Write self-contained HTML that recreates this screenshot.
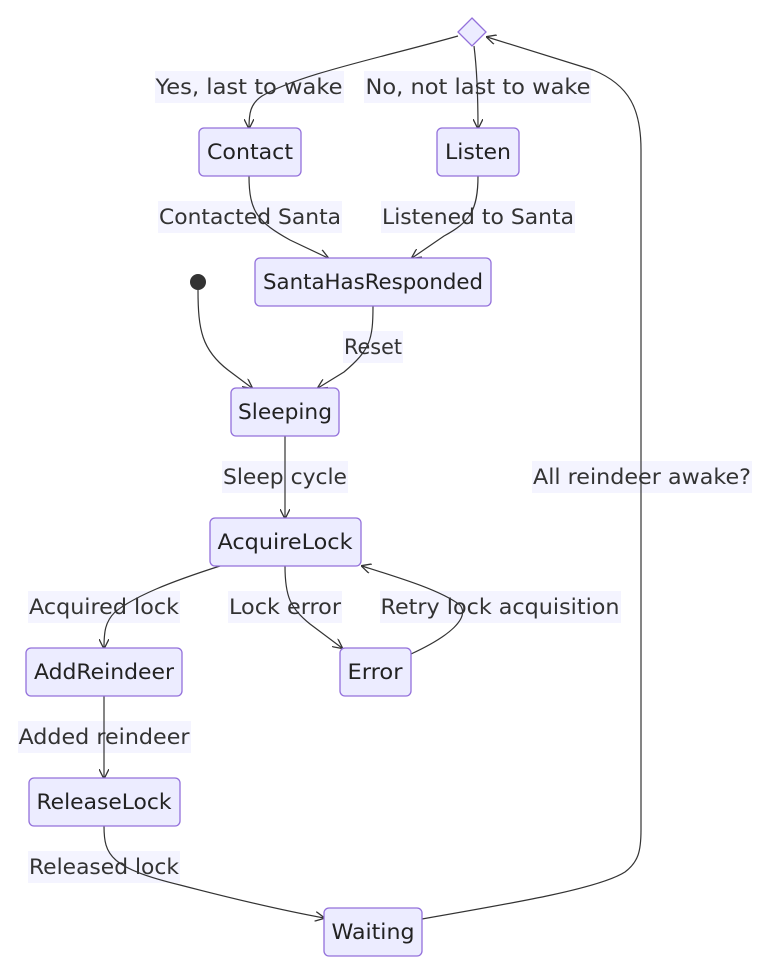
<!DOCTYPE html>
<html><head><meta charset="utf-8"><style>
html,body{margin:0;padding:0;background:#fff;}
svg{display:block;}
text{font-family:"DejaVu Sans","Liberation Sans",sans-serif;font-size:21px;fill:#333;dominant-baseline:central;text-anchor:middle;}
.n{fill:#ECECFF;stroke:#9370DB;stroke-width:1.3;}
.lb{fill:#F4F4FF;}
.e{fill:none;stroke:#333;stroke-width:1.2;}
.nt{fill:#222;}
</style></head><body>
<svg width="769" height="974" viewBox="0 0 769 974" xmlns="http://www.w3.org/2000/svg">
<defs><marker id="a" viewBox="0 0 10 10" refX="9" refY="5" markerWidth="10" markerHeight="10" orient="auto" markerUnits="userSpaceOnUse"><path d="M0,0 L10,5 L0,10" fill="none" stroke="#333" stroke-width="1.3"/></marker></defs>

<rect class="lb" x="155" y="71" width="189" height="32"/>
<rect class="lb" x="364" y="71" width="227" height="32"/>
<rect class="lb" x="158" y="201" width="184" height="32"/>
<rect class="lb" x="381" y="201" width="194" height="32"/>
<rect class="lb" x="343" y="331" width="60" height="32"/>
<rect class="lb" x="222" y="461" width="126" height="32"/>
<rect class="lb" x="532" y="461" width="220" height="32"/>
<rect class="lb" x="28" y="591" width="152" height="32"/>
<rect class="lb" x="228" y="591" width="114" height="32"/>
<rect class="lb" x="380" y="591" width="241" height="32"/>
<rect class="lb" x="18" y="721" width="173" height="32"/>
<rect class="lb" x="28" y="851" width="152" height="32"/>

<path class="e" marker-end="url(#a)" d="M458,36 C380,58 300,74 262,96 C250,104 249,114 249,128"/>
<path class="e" marker-end="url(#a)" d="M474,46 C477,70 478,100 478,128"/>
<path class="e" marker-end="url(#a)" d="M249,176 C249,212 258,222 290,240 L328,258"/>
<path class="e" marker-end="url(#a)" d="M478,176 C478,210 470,222 444,236 L412,258"/>
<path class="e" marker-end="url(#a)" d="M373,306 C373,340 370,350 344,372 L318,388"/>
<path class="e" marker-end="url(#a)" d="M198,290 C198,330 202,350 228,370 L252,388"/>
<path class="e" marker-end="url(#a)" d="M285,436 L285,518"/>
<path class="e" marker-end="url(#a)" d="M220,566 C170,582 135,596 115,612 C105,622 104,632 104,648"/>
<path class="e" marker-end="url(#a)" d="M285,566 C285,596 290,608 310,624 L342,648"/>
<path class="e" marker-end="url(#a)" d="M411,654 C450,636 470,618 460,605 C440,590 400,578 362,566"/>
<path class="e" marker-end="url(#a)" d="M104,696 L104,778"/>
<path class="e" marker-end="url(#a)" d="M104,826 C104,855 110,868 180,885 C230,898 280,910 324,918"/>
<path class="e" marker-end="url(#a)" d="M422,919 C520,902 600,888 625,872 C638,862 641,852 641,830 L641,150 C641,110 630,85 593,70 L487,37"/>

<polygon class="n" points="472,18 486,32 472,46 458,32"/>
<rect class="n" x="199" y="128" width="102" height="48" rx="5"/>
<rect class="n" x="437" y="128" width="82" height="48" rx="5"/>
<rect class="n" x="255" y="258" width="236" height="48" rx="5"/>
<circle cx="198" cy="282" r="8" fill="#333"/>
<rect class="n" x="231" y="388" width="108" height="48" rx="5"/>
<rect class="n" x="210" y="518" width="151" height="48" rx="5"/>
<rect class="n" x="26" y="648" width="156" height="48" rx="5"/>
<rect class="n" x="340" y="648" width="71" height="48" rx="5"/>
<rect class="n" x="29" y="778" width="151" height="48" rx="5"/>
<rect class="n" x="324" y="908" width="98" height="48" rx="5"/>

<text class="nt" x="250" y="152" textLength="86" lengthAdjust="spacingAndGlyphs">Contact</text>
<text class="nt" x="478" y="152" textLength="66" lengthAdjust="spacingAndGlyphs">Listen</text>
<text class="nt" x="373" y="282" textLength="220" lengthAdjust="spacingAndGlyphs">SantaHasResponded</text>
<text class="nt" x="285" y="412" textLength="94" lengthAdjust="spacingAndGlyphs">Sleeping</text>
<text class="nt" x="285" y="542" textLength="135" lengthAdjust="spacingAndGlyphs">AcquireLock</text>
<text class="nt" x="104" y="672" textLength="140" lengthAdjust="spacingAndGlyphs">AddReindeer</text>
<text class="nt" x="375" y="672" textLength="55" lengthAdjust="spacingAndGlyphs">Error</text>
<text class="nt" x="104" y="802" textLength="135" lengthAdjust="spacingAndGlyphs">ReleaseLock</text>
<text class="nt" x="373" y="932" textLength="83" lengthAdjust="spacingAndGlyphs">Waiting</text>

<text x="249" y="87" textLength="187" lengthAdjust="spacingAndGlyphs">Yes, last to wake</text>
<text x="478" y="87" textLength="225" lengthAdjust="spacingAndGlyphs">No, not last to wake</text>
<text x="250" y="217" textLength="182" lengthAdjust="spacingAndGlyphs">Contacted Santa</text>
<text x="478" y="217" textLength="192" lengthAdjust="spacingAndGlyphs">Listened to Santa</text>
<text x="373" y="347" textLength="58" lengthAdjust="spacingAndGlyphs">Reset</text>
<text x="285" y="477" textLength="124" lengthAdjust="spacingAndGlyphs">Sleep cycle</text>
<text x="642" y="477" textLength="218" lengthAdjust="spacingAndGlyphs">All reindeer awake?</text>
<text x="104" y="607" textLength="150" lengthAdjust="spacingAndGlyphs">Acquired lock</text>
<text x="285" y="607" textLength="112" lengthAdjust="spacingAndGlyphs">Lock error</text>
<text x="500" y="607" textLength="239" lengthAdjust="spacingAndGlyphs">Retry lock acquisition</text>
<text x="104" y="737" textLength="171" lengthAdjust="spacingAndGlyphs">Added reindeer</text>
<text x="104" y="867" textLength="150" lengthAdjust="spacingAndGlyphs">Released lock</text>
</svg>
</body></html>
